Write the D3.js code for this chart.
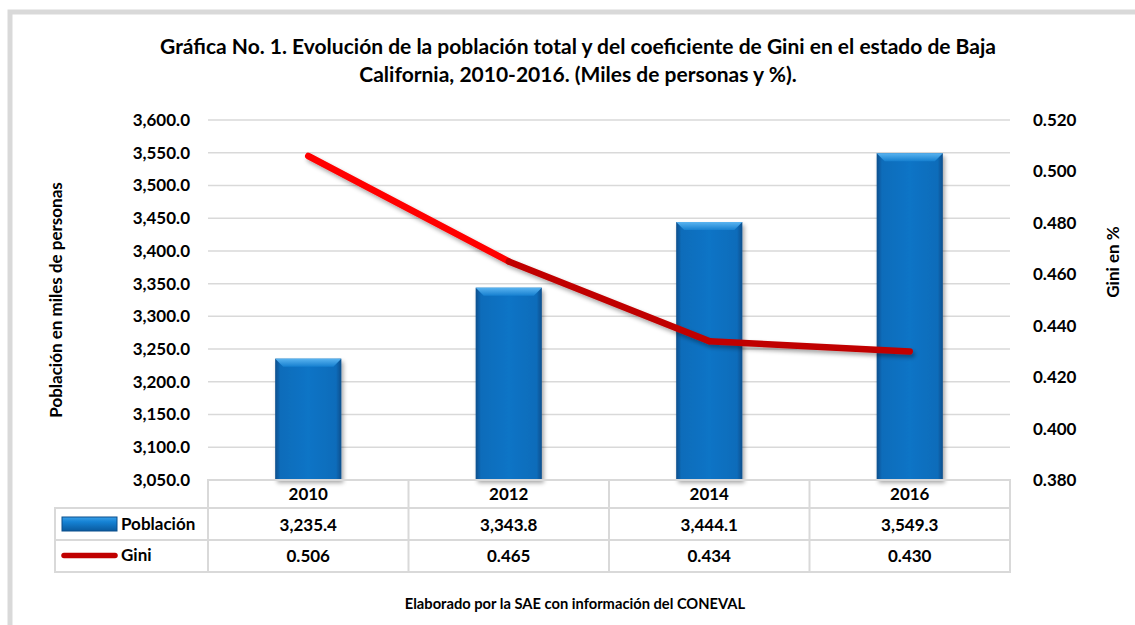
<!DOCTYPE html>
<html><head><meta charset="utf-8">
<script src="https://cdn.jsdelivr.net/npm/d3@7"></script>
<style>
html,body{margin:0;padding:0;background:#fff;}
svg{display:block;font-family:Lato,"Open Sans",sans-serif;}
</style></head>
<body>
<svg id="c" width="1135" height="625"></svg>
<script>
const years = ["2010","2012","2014","2016"];
const poblacion = [3235.4, 3343.8, 3444.1, 3549.3];
const gini = [0.506, 0.465, 0.434, 0.430];
const leftTicks = [3050,3100,3150,3200,3250,3300,3350,3400,3450,3500,3550,3600];
const rightTicks = [0.38,0.40,0.42,0.44,0.46,0.48,0.50,0.52];
const titleLines = ["Gráfica No. 1. Evolución de la población total y del coeficiente de Gini en el estado de Baja",
                    "California, 2010-2016. (Miles de personas y %)."];
const seriesNames = ["Población","Gini"];
const segColors = ["#ff0000","#c00000","#c00000"];

const FS = 17;
const svg = d3.select("#c");
const defs = svg.append("defs");

// frame
svg.append("rect").attr("x",10).attr("y",12).attr("width",1200).attr("height",700)
  .attr("fill","none").attr("stroke","#d9d9d9").attr("stroke-width",5);

const X0 = 208, X1 = 1010, YT = 120, YB = 480;
const x = d3.scaleBand().domain(years).range([X0, X1]);
const yL = d3.scaleLinear().domain([3050,3600]).range([YB, YT]);
const yR = d3.scaleLinear().domain([0.38,0.52]).range([YB, YT]);

// title
const title = svg.append("text").attr("text-anchor","middle").attr("font-weight","bold")
  .attr("font-size",21).attr("fill","#000");
title.selectAll("tspan").data(titleLines).join("tspan")
  .attr("x",578).attr("y",(d,i)=>54+i*28).text(d=>d);

// gridlines
svg.append("g").selectAll("line").data(leftTicks.slice(1)).join("line")
  .attr("x1",X0).attr("x2",X1).attr("y1",d=>yL(d)).attr("y2",d=>yL(d))
  .attr("stroke","#d9d9d9").attr("stroke-width",1.5);

// left axis
const axL = svg.append("g").attr("transform",`translate(${X0-18},0)`)
  .call(d3.axisLeft(yL).tickValues(leftTicks).tickSize(0).tickPadding(0).tickFormat(d3.format(",.1f")));
axL.select(".domain").remove();
axL.selectAll("text").attr("font-family","Lato,sans-serif").attr("font-size",FS).attr("font-weight","bold").attr("fill","#000");

// right axis
const axR = svg.append("g").attr("transform",`translate(${1033},0)`)
  .call(d3.axisRight(yR).tickValues(rightTicks).tickSize(0).tickPadding(0).tickFormat(d3.format(".3f")));
axR.select(".domain").remove();
axR.selectAll("text").attr("font-family","Lato,sans-serif").attr("font-size",FS).attr("font-weight","bold").attr("fill","#000");

// axis titles
svg.append("text").attr("transform","translate(62,300) rotate(-90)").attr("text-anchor","middle")
  .attr("font-size",FS).attr("font-weight","bold").text("Población en miles de personas");
svg.append("text").attr("transform","translate(1119,262) rotate(-90)").attr("text-anchor","middle")
  .attr("font-size",FS).attr("font-weight","bold").text("Gini en %");

// gradients
const gH = defs.append("linearGradient").attr("id","barH").attr("x1",0).attr("x2",1).attr("y1",0).attr("y2",0);
[[0,"#0a4f8c"],[0.08,"#0a6cba"],[0.5,"#0874c6"],[0.92,"#0a6cba"],[1,"#0a4f8c"]]
  .forEach(s=>gH.append("stop").attr("offset",s[0]).attr("stop-color",s[1]));
const gT = defs.append("linearGradient").attr("id","barT").attr("x1",0).attr("x2",0).attr("y1",0).attr("y2",1);
[[0,"#5ab4f0"],[1,"#1680d0"]].forEach(s=>gT.append("stop").attr("offset",s[0]).attr("stop-color",s[1]));
const sh = defs.append("filter").attr("id","shadow").attr("x","-20%").attr("y","-20%").attr("width","140%").attr("height","140%");
sh.append("feDropShadow").attr("dx",2).attr("dy",3).attr("stdDeviation",2).attr("flood-color","#000").attr("flood-opacity",0.35);

// bars
const bw = x.bandwidth()*0.33;
const bars = svg.append("g").selectAll("g").data(years).join("g");
bars.append("rect").attr("x",d=>x(d)+x.bandwidth()/2-bw/2).attr("y",(d,i)=>yL(poblacion[i]))
  .attr("width",bw).attr("height",(d,i)=>YB-yL(poblacion[i])).attr("fill","url(#barH)")
  .attr("filter","url(#shadow)");
bars.append("path").attr("d",(d,i)=>{
  const l = x(d)+x.bandwidth()/2-bw/2, r = l+bw, t = yL(poblacion[i]), b = 8;
  return `M${l},${t}L${r},${t}L${r-b},${t+b}L${l+b},${t+b}Z`;
}).attr("fill","url(#barT)");

// line
const pts = years.map((d,i)=>[x(d)+x.bandwidth()/2, yR(gini[i])]);
const lg = svg.append("g").attr("filter","url(#shadow)");
lg.selectAll("line").data(pts.slice(1)).join("line")
  .attr("x1",(d,i)=>pts[i][0]).attr("y1",(d,i)=>pts[i][1])
  .attr("x2",d=>d[0]).attr("y2",d=>d[1])
  .attr("stroke",(d,i)=>segColors[i]).attr("stroke-width",6.5).attr("stroke-linecap","round");

// data table
const tbl = svg.append("g").attr("stroke","#d9d9d9").attr("stroke-width",2).attr("fill","none");
const R0 = 480, R1 = 508, R2 = 540, R3 = 572, TL = 55;
tbl.append("path").attr("d",`M${X0},${R0}H${X1}V${R3}H${TL}V${R1}H${X0}Z`);
tbl.append("line").attr("x1",TL).attr("x2",X1).attr("y1",R2).attr("y2",R2);
tbl.append("line").attr("x1",X0).attr("x2",X1).attr("y1",R1).attr("y2",R1);
tbl.selectAll(".v").data(years.slice(1)).join("line").attr("class","v")
  .attr("x1",d=>x(d)).attr("x2",d=>x(d)).attr("y1",R0).attr("y2",R3);
tbl.append("line").attr("x1",X0).attr("x2",X0).attr("y1",R0).attr("y2",R3);

const tx = svg.append("g").attr("font-size",FS).attr("font-weight","bold").attr("text-anchor","middle");
tx.selectAll(".yr").data(years).join("text").attr("class","yr")
  .attr("x",d=>x(d)+x.bandwidth()/2).attr("y",500).text(d=>d);
tx.selectAll(".pv").data(poblacion).join("text").attr("class","pv")
  .attr("x",(d,i)=>x(years[i])+x.bandwidth()/2).attr("y",531).text(d=>d3.format(",.1f")(d));
tx.selectAll(".gv").data(gini).join("text").attr("class","gv")
  .attr("x",(d,i)=>x(years[i])+x.bandwidth()/2).attr("y",562).text(d=>d3.format(".3f")(d));

// legend keys
const lgH = defs.append("linearGradient").attr("id","legB").attr("x1",0).attr("x2",0).attr("y1",0).attr("y2",1);
[[0,"#3aa0e8"],[0.35,"#1582d4"],[1,"#0a5a9e"]].forEach(s=>lgH.append("stop").attr("offset",s[0]).attr("stop-color",s[1]));
svg.append("rect").attr("x",62).attr("y",517).attr("width",55).attr("height",14).attr("fill","url(#legB)")
  .attr("stroke","#0a4f8c").attr("stroke-width",1);
svg.append("line").attr("x1",64).attr("x2",115).attr("y1",555.5).attr("y2",555.5)
  .attr("stroke","#c00000").attr("stroke-width",5.5).attr("stroke-linecap","round");
svg.append("g").attr("font-size",FS).attr("font-weight","bold").selectAll("text").data(seriesNames).join("text")
  .attr("x",121).attr("y",(d,i)=>530+i*31).text(d=>d);

// footer
svg.append("text").attr("x",575).attr("y",609).attr("text-anchor","middle").attr("font-size",14.7)
  .attr("font-weight","bold").text("Elaborado por la SAE con información del CONEVAL");
</script>
</body></html>
